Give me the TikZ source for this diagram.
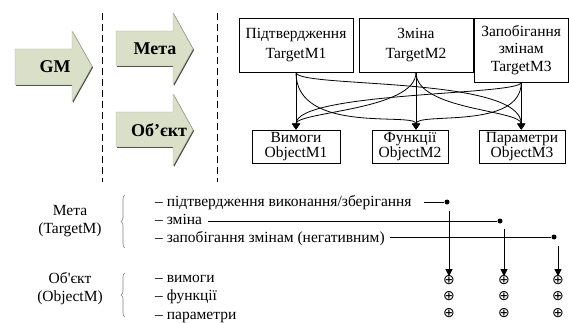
\documentclass[tikz,border=0pt]{standalone}
\usepackage{fontspec}
\setmainfont{Liberation Serif}
\newfontfamily\symfont{DejaVu Sans}
\usetikzlibrary{arrows.meta,decorations.pathreplacing,calc}
\definecolor{arrowfill}{RGB}{218,224,200}
\definecolor{arrowshade}{RGB}{70,70,60}
\tikzset{
  box/.style={draw, line width=0.8pt, inner sep=0pt, align=center},
  toptext/.style={font=\fontsize{15.5}{20}\selectfont},
  midtext/.style={font=\fontsize{15.5}{17.5}\selectfont},
  bottext/.style={font=\fontsize{15.5}{15}\selectfont},
  conn/.style={line width=0.8pt, -{Triangle[length=6pt,width=8pt]}},
  vconn/.style={line width=0.8pt, -{Triangle[length=7pt,width=7pt]}},
  hline/.style={line width=0.8pt},
  item/.style={anchor=base west, inner sep=0pt, font=\fontsize{15.5}{18}\selectfont},
  label/.style={align=center, inner sep=0pt, font=\fontsize{15.5}{18}\selectfont},
  bigarrow/.style={fill=arrowfill, draw=arrowfill!80!black, line width=0.4pt},
  arrowshadow/.style={fill=arrowshade},
  arrowtext/.style={inner sep=0pt, font=\bfseries\fontsize{18}{18}\selectfont},
  sepline/.style={dash pattern=on 7pt off 4pt, line width=0.9pt},
  dotnode/.style={circle, fill, inner sep=0pt, minimum size=5pt},
  oplus/.style={inner sep=0pt, font=\symfont\fontsize{14}{14}\selectfont},
  bracestyle/.style={decorate, decoration={brace, amplitude=4pt}, draw=gray, line width=0.6pt},
}
\begin{document}
\begin{tikzpicture}[x=1pt,y=-1pt]
\useasboundingbox (0,0) rectangle (569,323);

% big arrows (shadow + fill)
\fill[arrowshadow] (16,50) -- (73,50) -- (73,32) -- (93,67.5) -- (73,103) -- (73,86) -- (16,86) -- cycle;
\path[bigarrow] (15,49) -- (72,49) -- (72,31) -- (92,66.5) -- (72,102) -- (72,85) -- (15,85) -- cycle;
\fill[arrowshadow] (117,32) -- (174,32) -- (174,14) -- (194,50) -- (174,86) -- (174,67) -- (117,67) -- cycle;
\path[bigarrow] (116,31) -- (173,31) -- (173,13) -- (193,49) -- (173,85) -- (173,66) -- (116,66) -- cycle;
\fill[arrowshadow] (117,113) -- (174,113) -- (174,95) -- (194,131) -- (174,167) -- (174,148) -- (117,148) -- cycle;
\path[bigarrow] (116,112) -- (173,112) -- (173,94) -- (193,130) -- (173,166) -- (173,147) -- (116,147) -- cycle;
\node[arrowtext] (gm) at (55,67) {GM};
\node[arrowtext] (meta) at (155,49) {Мета};
\node[arrowtext] (obj) at (159,130) {Об’єкт};

% separators
\draw[sepline] (102,13) -- (102,182);
\draw[sepline] (217,13) -- (217,182);

% boxes
\node[box, toptext, minimum width=114pt, minimum height=54pt] (t1) at (296,45) {Підтвердження\\TargetM1};
\node[box, toptext, minimum width=114pt, minimum height=54pt] (t2) at (416,45) {Зміна\\TargetM2};
\node[box, midtext, minimum width=94.5pt, minimum height=64pt] (t3) at (521.25,50) {Запобігання\\змінам\\TargetM3};
\node[box, bottext, minimum width=88pt, minimum height=33pt] (o1) at (296,146.5) {Вимоги\\ObjectM1};
\node[box, bottext, minimum width=76pt, minimum height=33pt] (o2) at (410,146.5) {Функції\\ObjectM2};
\node[box, bottext, minimum width=86pt, minimum height=33pt] (o3) at (522,146.5) {Параметри\\ObjectM3};

% connectors
\draw[conn] (t1.south) -- (t1.south |- o1.north);
\draw[conn] (t2.south) -- (t2.south |- o2.north);
\draw[conn] (t3.south) -- (t3.south |- o3.north);
\draw[conn] (t1.south) .. controls +(0,63) and +(0,-18) .. (t2.south |- o2.north);
\draw[conn] (t1.south) .. controls +(0,16) and +(0,-54) .. (t3.south |- o3.north);
\draw[conn] (t2.south) .. controls +(0,38) and +(0,-18) .. (t1.south |- o1.north);
\draw[conn] (t2.south) .. controls +(0,38) and +(0,-20) .. (t3.south |- o3.north);
\draw[conn] (t3.south) .. controls +(0,13) and +(0,-38) .. (t1.south |- o1.north);
\draw[conn] (t3.south) .. controls +(0,48) and +(0,-18) .. (t2.south |- o2.north);

% lower legend
\node[label] (lm) at (70,221) {Мета\\(TargetM)};
\node[label] (lo) at (70,289) {Об\textquotesingle єкт\\(ObjectM)};
\draw[bracestyle] (125,248) -- (125,195);
\draw[bracestyle] (125,317) -- (125,273);

\node[item] (r1) at (155,206) {– підтвердження виконання/зберігання};
\node[item] (r2) at (155,224) {– зміна};
\node[item] (r3) at (155,242) {– запобігання змінам (негативним)};
\node[item] (s1) at (155,282) {– вимоги};
\node[item] (s2) at (155,300) {– функції};
\node[item] (s3) at (155,319) {– параметри};

\node[dotnode] (d1) at (447,202) {};
\node[dotnode] (d2) at (500,221) {};
\node[dotnode] (d3) at (554,237) {};
\coordinate (r1e) at ([xshift=12pt]r1.east);
\coordinate (r2e) at ([xshift=6pt]r2.east);
\coordinate (r3e) at ([xshift=5pt]r3.east);
\draw[hline] (r1e |- d1) -- (d1);
\draw[hline] (r2e |- d2) -- (d2);
\draw[hline] (r3e |- d3) -- (d3);

\foreach \c/\x in {1/449,2/504,3/558}{
  \node[oplus] (p\c1) at (\x,280) {⊕};
  \node[oplus] (p\c2) at (\x,296) {⊕};
  \node[oplus] (p\c3) at (\x,313) {⊕};
}
\coordinate (v1) at (449,211);
\coordinate (v2) at (504,229);
\coordinate (v3) at (558,246);
\draw[vconn] (v1) -- ([yshift=-1pt]p11.north);
\draw[vconn] (v2) -- ([yshift=-1pt]p21.north);
\draw[vconn] (v3) -- ([yshift=-1pt]p31.north);
\end{tikzpicture}
\end{document}
